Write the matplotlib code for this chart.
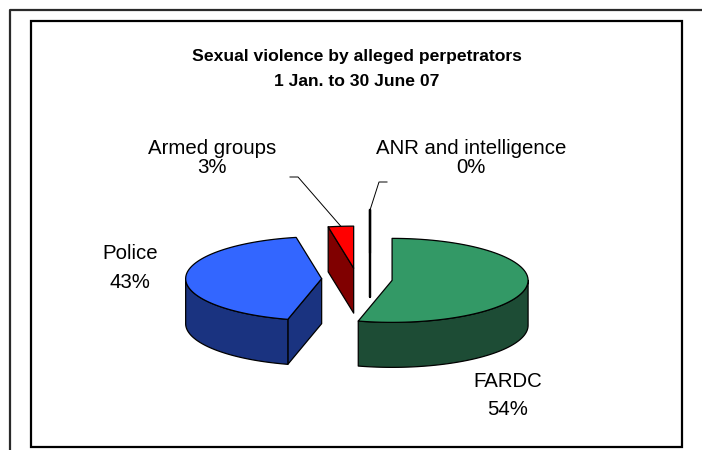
import numpy as np
from matplotlib import pyplot as plt
from matplotlib.patches import Polygon, Rectangle

# data (percent of cases)
labels = ["FARDC", "Police", "Armed groups", "ANR and intelligence"]
shares = [54, 43, 3, 0]

title_lines = ["Sexual violence by alleged perpetrators", "1 Jan. to 30 June 07"]

# styling
top_colors = ["#339966", "#3366FF", "#FF0000", "#FFFFFF"]
side_colors = ["#1D4C35", "#1A3380", "#800000", "#000000"]
explode = [0.26, 0.26, 0.26, 0.64]
nudge = [(0, 0), (0, 0), (0, 0), (13, 0)]  # excel draws the empty slice off to the side
label_xy = [(508, 387), (130, 259), (212, 154), (471, 154)]
label_gap = [28, 29, 19, 19]
leader_elbows = [None, None, [(290, 177), (298, 177)], [(387, 182), (379, 182)]]

fonts = ["Liberation Sans", "DejaVu Sans"]

CX, CY = 357, 279  # pie centre in pixels
A, B = 136, 42  # ellipse semi axes
DEPTH = 45


def arc(cx, cy, t1, t2, n=80):
    t = np.radians(np.linspace(t1, t2, n))
    return np.column_stack([cx + A * np.sin(t), cy - B * np.cos(t)])


def point(cx, cy, t):
    t = np.radians(t)
    return np.array([cx + A * np.sin(t), cy - B * np.cos(t)])


def face(ax, pts, color, lw=0.9):
    ax.add_patch(Polygon(pts, closed=True, facecolor=color, edgecolor="black",
                         linewidth=lw, joinstyle="round"))


fig = plt.figure(figsize=(7.02, 4.5), dpi=100)
ax = fig.add_axes([0, 0, 1, 1])
ax.set_xlim(0, 702)
ax.set_ylim(450, 0)
ax.axis("off")

# frames
ax.plot([9.5, 9.5, 702], [450, 9.5, 9.5], color="#2a2a2a", lw=1.6, solid_capstyle="butt")
ax.add_patch(Rectangle((31, 21), 651, 426, fill=False, edgecolor="black", lw=1.6))

total = sum(shares)
bounds = np.concatenate([[0], np.cumsum(shares)]) / total * 360
down = np.array([0, DEPTH])

slices = []
for i, v in enumerate(shares):
    t1, t2 = bounds[i], bounds[i + 1]
    mid = (t1 + t2) / 2
    off = point(0, 0, mid) * explode[i]
    cx, cy = CX + off[0] + nudge[i][0], CY + off[1] + nudge[i][1]
    slices.append((i, t1, t2, mid, cx, cy))

# back slices first
for i, t1, t2, mid, cx, cy in sorted(slices, key=lambda s: -np.cos(np.radians(s[3]))):
    c = np.array([cx, cy])
    side = side_colors[i]
    empty = t2 - t1 == 0
    # radial face at start angle
    if np.sin(np.radians(t1)) < -1e-9 or empty:
        p = point(cx, cy, t1)
        face(ax, [c, p, p + down, c + down], side, 1.6 if empty else 0.9)
    # radial face at end angle
    if np.sin(np.radians(t2)) > 1e-9 and not empty:
        p = point(cx, cy, t2)
        face(ax, [c, p, p + down, c + down], side)
    # curved outer wall (front half only)
    lo, hi = max(t1, 90), min(t2, 270)
    if hi > lo:
        rim = arc(cx, cy, lo, hi)
        face(ax, np.vstack([rim, (rim + down)[::-1]]), side)
    # top
    if empty:
        p = point(cx, cy, t1)
        ax.plot([cx, p[0]], [cy, p[1]], color="black", lw=1.6)
    else:
        face(ax, np.vstack([c, arc(cx, cy, t1, t2)]), top_colors[i])

# title
ax.text(357, 61, title_lines[0], ha="center", va="baseline", fontsize=12.6,
        fontweight="bold", family=fonts)
ax.text(357, 86, title_lines[1], ha="center", va="baseline", fontsize=12.6,
        fontweight="bold", family=fonts)

# labels and leader lines
for i, (t1, t2, mid, cx, cy) in [(s[0], s[1:]) for s in slices]:
    x, y = label_xy[i]
    ax.text(x, y, labels[i], ha="center", va="baseline", fontsize=14.7, family=fonts)
    ax.text(x, y + label_gap[i], f"{shares[i] / total:.0%}", ha="center",
            va="baseline", fontsize=14.7, family=fonts)
    if leader_elbows[i] is not None:
        end = point(cx, cy, mid)
        pts = np.array(leader_elbows[i] + [tuple(end)])
        ax.plot(pts[:, 0], pts[:, 1], color="black", lw=0.7)

fig.savefig("out.png", dpi=100)
